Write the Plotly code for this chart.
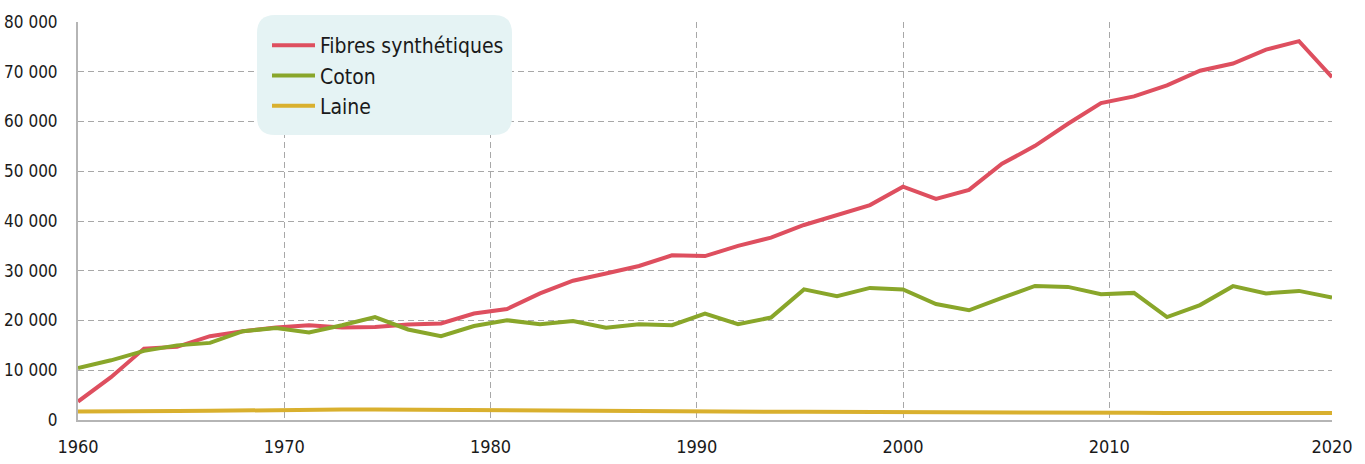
import plotly.graph_objects as go

# x positions (years) of the data points
years = [1960.0, 1961.6, 1963.2, 1964.8, 1966.4, 1968.0, 1969.6, 1971.2, 1972.8, 1974.4,
         1976.0, 1977.6, 1979.2, 1980.8, 1982.4, 1984.0, 1985.6, 1987.2, 1988.8, 1990.4,
         1992.0, 1993.6, 1995.2, 1996.8, 1998.4, 2000.0, 2001.6, 2003.2, 2004.8, 2006.4,
         2008.0, 2009.6, 2011.2, 2012.8, 2014.4, 2016.0, 2017.6, 2019.2, 2020.8]

synthetiques = [3700, 8600, 14350, 14700, 16850, 17850, 18600, 19050, 18600, 18700,
                19200, 19400, 21400, 22300, 25450, 28000, 29450, 30950, 33100, 32950,
                35000, 36650, 39200, 41200, 43200, 46900, 44450, 46250, 51500, 55100,
                59550, 63700, 65050, 67250, 70200, 71650, 74450, 76150, 68900]

coton = [10450, 12000, 13900, 15000, 15500, 17850, 18500, 17600, 19050, 20700,
         18200, 16850, 18900, 20050, 19250, 19900, 18550, 19250, 19050, 21400,
         19250, 20600, 26250, 24900, 26550, 26250, 23300, 22050, 24550, 26950,
         26750, 25300, 25550, 20700, 23100, 26900, 25450, 25950, 24600]

laine = [1700, 1800, 1800, 1800, 1850, 1950, 2000, 2050, 2100, 2100,
         2050, 2000, 1950, 1900, 1850, 1800, 1800, 1750, 1750, 1700,
         1700, 1650, 1650, 1650, 1600, 1600, 1550, 1500, 1450, 1450,
         1450, 1450, 1450, 1400, 1400, 1400, 1400, 1400, 1400]

series_names = ["Fibres synthétiques", "Coton", "Laine"]
series_colors = ["#de4f5f", "#89a62a", "#d9b02e"]

x_tickvals = [1960, 1970, 1980, 1990, 2000, 2010, 2020.8]
x_ticktext = ["1960", "1970", "1980", "1990", "2000", "2010", "2020"]
y_tickvals = [0, 10000, 20000, 30000, 40000, 50000, 60000, 70000, 80000]

FONT = "Liberation Sans Narrow, DejaVu Sans Condensed, Roboto, sans-serif"

W, H = 1365, 464
L, R, T, B = 78, 33, 22, 44
pw, ph = W - L - R, H - T - B

fig = go.Figure()
for name, vals, col in zip(series_names, [synthetiques, coton, laine], series_colors):
    fig.add_trace(go.Scatter(x=years, y=vals, name=name, mode="lines",
                             line=dict(color=col, width=4), hoverinfo="x+y+name"))

# rounded legend background box (pixel -> paper)
def px2x(px):
    return (px - L) / pw

def py2y(py):
    return (H - B - py) / ph

x0, x1, y0, y1, r = 257, 512, 15, 135, 18
path = (f"M {px2x(x0 + r)},{py2y(y0)} L {px2x(x1 - r)},{py2y(y0)} "
        f"Q {px2x(x1)},{py2y(y0)} {px2x(x1)},{py2y(y0 + r)} "
        f"L {px2x(x1)},{py2y(y1 - r)} Q {px2x(x1)},{py2y(y1)} {px2x(x1 - r)},{py2y(y1)} "
        f"L {px2x(x0 + r)},{py2y(y1)} Q {px2x(x0)},{py2y(y1)} {px2x(x0)},{py2y(y1 - r)} "
        f"L {px2x(x0)},{py2y(y0 + r)} Q {px2x(x0)},{py2y(y0)} {px2x(x0 + r)},{py2y(y0)} Z")

fig.add_shape(type="path", path=path, xref="paper", yref="paper",
              fillcolor="#e5f3f4", line=dict(width=0), layer="above")

fig.update_layout(
    width=W, height=H,
    margin=dict(l=L, r=R, t=T, b=B, pad=0),
    paper_bgcolor="white", plot_bgcolor="white",
    separators=", ",
    font=dict(family=FONT, size=18, color="#1a1a1a"),
    showlegend=True,
    legend=dict(x=px2x(267), y=py2y(25), xanchor="left", yanchor="top",
                bgcolor="rgba(0,0,0,0)", font=dict(family=FONT, size=21, color="#1a1a1a"),
                tracegroupgap=0, itemwidth=43),
    xaxis=dict(range=[1960, 2020.8], tickvals=x_tickvals, ticktext=x_ticktext,
               showgrid=True, gridcolor="#a8a8a8", griddash="6px,4px", gridwidth=1,
               showline=True, linecolor="#b5b5b5", linewidth=2, zeroline=False,
               ticks="", ticklabelstandoff=9, fixedrange=True, automargin=False),
    yaxis=dict(range=[0, 80000], tickvals=y_tickvals, tickformat=",d",
               tickfont=dict(size=17),
               showgrid=True, gridcolor="#a8a8a8", griddash="6px,4px", gridwidth=1,
               showline=True, linecolor="#b5b5b5", linewidth=2, zeroline=False,
               ticks="", ticklabelstandoff=15, fixedrange=True, automargin=False),
)

fig.write_html("out.html",
               config={"displayModeBar": False},
               post_script="document.body.style.margin='0';document.body.style.overflow='hidden';")
